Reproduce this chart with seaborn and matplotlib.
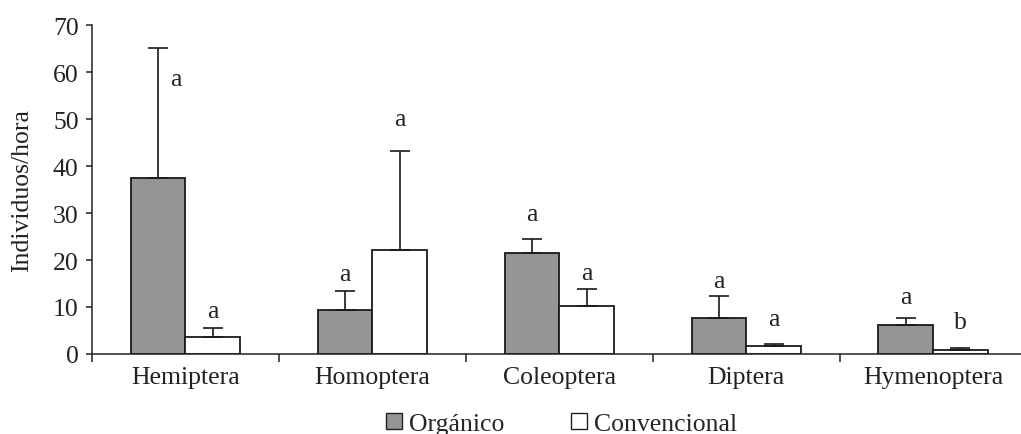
import numpy as np
import pandas as pd
import matplotlib
matplotlib.use("Agg")
import matplotlib.pyplot as plt
from matplotlib.lines import Line2D
import seaborn as sns

# ---- data ----
categories = ["Hemiptera", "Homoptera", "Coleoptera", "Diptera", "Hymenoptera"]
organico = [37.4, 9.4, 21.5, 7.7, 6.2]
convencional = [3.6, 22.2, 10.2, 1.8, 0.9]
err_organico = [27.7, 4.0, 3.0, 4.6, 1.4]       # upper error (SE)
err_convencional = [1.9, 21.1, 3.6, 0.4, 0.4]
letters_organico = ["a", "a", "a", "a", "a"]
letters_convencional = ["a", "a", "a", "a", "b"]
series_names = ["Orgánico", "Convencional"]
y_ticks = [0, 10, 20, 30, 40, 50, 60, 70]

df = pd.DataFrame({
    "cat": categories * 2,
    "sistema": [series_names[0]] * 5 + [series_names[1]] * 5,
    "valor": organico + convencional,
})

FS = 18.5
sns.set_theme(style="white")
plt.rcParams["font.family"] = ["Liberation Serif", "DejaVu Serif"]
plt.rcParams["font.size"] = FS

fig = plt.figure(figsize=(10.21, 4.35), dpi=100)
ax = fig.add_axes([0.090, 0.184, 0.910, 0.756])

gray = "#939598"
sns.barplot(data=df, x="cat", y="valor", hue="sistema", order=categories,
            hue_order=series_names, palette=[gray, "white"], width=0.585,
            edgecolor="#1a1a1a", linewidth=1.3, errorbar=None, legend=False, ax=ax)

bars = [p for p in ax.patches][:10]
org_bars = bars[:5]
conv_bars = bars[5:10]

def add_err(bars_, vals, errs):
    xs = [b.get_x() + b.get_width() / 2 for b in bars_]
    ax.errorbar(xs, vals, yerr=[np.zeros(len(errs)), errs], fmt="none",
                ecolor="#1a1a1a", elinewidth=1.2, capsize=7.5, capthick=1.2, zorder=1)
    return xs

xo = add_err(org_bars, organico, err_organico)
xc = add_err(conv_bars, convencional, err_convencional)

# letters (offset above error bar, in data units)
off_org = [None, 3.6, 5.3, 3.2, 4.5]
off_conv = [3.6, 6.7, 3.4, 5.2, 5.5]
for i in range(5):
    top = organico[i] + err_organico[i]
    if i == 0:
        ax.text(xo[i] + 0.097, 58.5, letters_organico[i], ha="center", va="center", fontsize=FS)
    else:
        ax.text(xo[i], top + off_org[i], letters_organico[i], ha="center", va="center", fontsize=FS)
    topc = convencional[i] + err_convencional[i]
    ax.text(xc[i], topc + off_conv[i], letters_convencional[i], ha="center", va="center", fontsize=FS)

ax.set_ylim(0, 70)
ax.set_xlim(-0.5, 4.47)
ax.set_yticks(y_ticks)
ax.set_xticks(range(5))
ax.set_xticklabels(categories)
ax.set_xticks([-0.5, 0.5, 1.5, 2.5, 3.5], minor=True)
ax.tick_params(axis="x", which="major", length=0, pad=9, labelsize=FS, colors="#222222")
ax.tick_params(axis="x", which="minor", length=6, width=1.1, direction="out", color="#222222", bottom=True)
ax.tick_params(axis="y", length=4.5, width=1.1, direction="out", pad=5, labelsize=FS,
               colors="#222222", left=True)
ax.set_xlabel("")
ax.set_ylabel("Individuos/hora", fontsize=FS, color="#222222", labelpad=14)

for s in ["top", "right"]:
    ax.spines[s].set_visible(False)
for s in ["left", "bottom"]:
    ax.spines[s].set_color("#222222")
    ax.spines[s].set_linewidth(1.1)

handles = [Line2D([], [], marker="s", linestyle="none", markersize=11,
                  markerfacecolor=gray, markeredgecolor="#222222", markeredgewidth=1.0),
           Line2D([], [], marker="s", linestyle="none", markersize=11,
                  markerfacecolor="white", markeredgecolor="#222222", markeredgewidth=1.0)]
fig.legend(handles, series_names, loc="lower center", bbox_to_anchor=(0.549, -0.056),
           ncol=2, frameon=False, fontsize=FS, handletextpad=0.2, columnspacing=2.5,
           handlelength=0.8)

fig.savefig("out.png", dpi=100)
